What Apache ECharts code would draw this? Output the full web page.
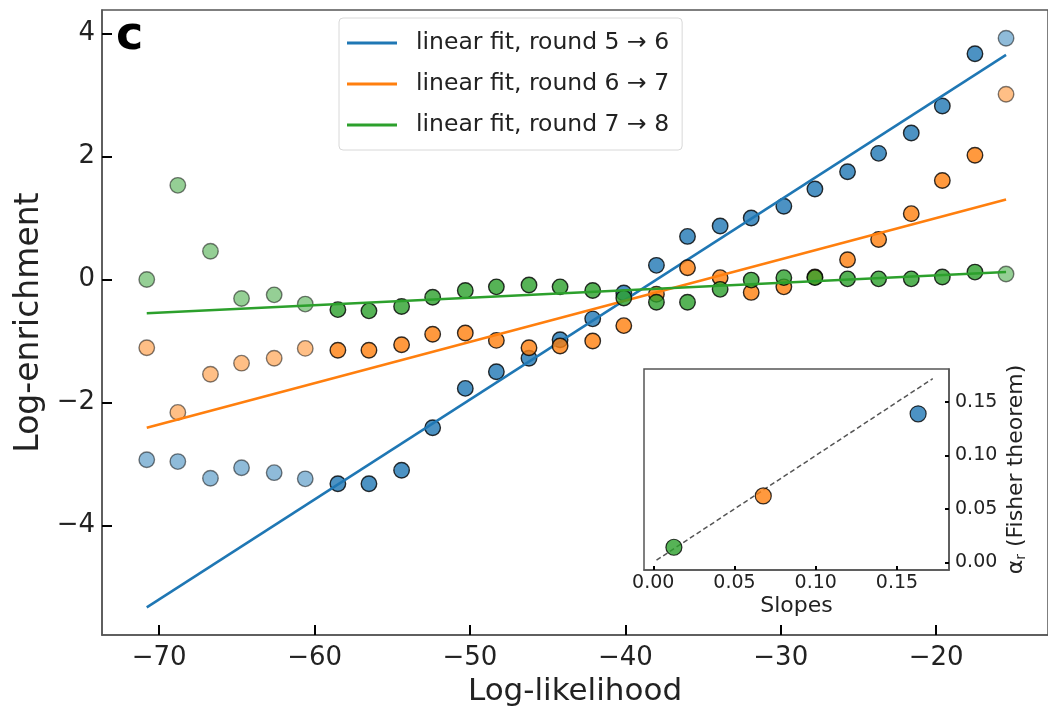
<!DOCTYPE html>
<html>
<head>
<meta charset="utf-8">
<script src="https://cdn.jsdelivr.net/npm/echarts@6/dist/echarts.min.js"></script>
<style>html,body{margin:0;padding:0;background:#fff}#c{width:1048px;height:712px}</style>
</head>
<body>
<div id="c"></div>
<script>
// ---- data ----
const logLik = [-70.8, -68.8, -66.7, -64.7, -62.6, -60.6, -58.5, -56.5, -54.4, -52.4, -50.3, -48.3, -46.2, -44.2,
                -42.1, -40.1, -38.0, -36.0, -33.9, -31.9, -29.8, -27.8, -25.7, -23.7, -21.6, -19.6, -17.5, -15.5];
const enrich56 = [-2.93, -2.96, -3.23, -3.06, -3.14, -3.24, -3.32, -3.32, -3.10, -2.41, -1.77, -1.50, -1.28, -0.98,
                  -0.64, -0.22, 0.23, 0.70, 0.87, 1.00, 1.19, 1.47, 1.75, 2.05, 2.38, 2.82, 3.67, 3.92];
const enrich67 = [-1.11, -2.16, -1.54, -1.36, -1.28, -1.12, -1.15, -1.15, -1.06, -0.89, -0.87, -0.99, -1.11, -1.08,
                  -1.00, -0.75, -0.24, 0.19, 0.03, -0.21, -0.12, 0.04, 0.32, 0.65, 1.07, 1.61, 2.02, 3.01];
const enrich78 = [0.00, 1.53, 0.46, -0.31, -0.25, -0.40, -0.49, -0.51, -0.44, -0.29, -0.18, -0.12, -0.09, -0.12,
                  -0.18, -0.30, -0.37, -0.37, -0.16, -0.01, 0.03, 0.03, 0.01, 0.01, 0.01, 0.04, 0.12, 0.09];
const fitFirst = 6, fitLast = 26;              // indices of points used in the fits
const fitX = [-70.8, -15.5];
const fit56 = [-5.33, 3.65];
const fit67 = [-2.41, 1.30];
const fit78 = [-0.55, 0.12];
const roundNames = ['linear fit, round 5 \u2192 6', 'linear fit, round 6 \u2192 7', 'linear fit, round 7 \u2192 8'];
const xTicks = [-70, -60, -50, -40, -30, -20];
const yTicks = [-4, -2, 0, 2, 4];
// inset
const slopes = [0.163, 0.0677, 0.0127];
const alphaFisher = [0.139, 0.0622, 0.0141];
const diagX = [0.002, 0.172];
const insetXTicks = [0, 0.05, 0.10, 0.15];
const insetYTicks = [0, 0.05, 0.10, 0.15];

const colors = ['#1f77b4', '#ff7f0e', '#2ca02c'];
const FONT = 'DejaVu Sans';
const minus = v => String(v).replace('-', '\u2212');

function pts(arr, keep) {
  const out = [];
  for (let i = 0; i < arr.length; i++) if (keep(i)) out.push([logLik[i], arr[i]]);
  return out;
}
const inFit = i => i >= fitFirst && i <= fitLast;
const outFit = i => !inFit(i);

const series = [];
[enrich56, enrich67, enrich78].forEach((arr, s) => {
  const fit = [fit56, fit67, fit78][s];
  series.push({
    type: 'scatter', xAxisIndex: 0, yAxisIndex: 0, symbolSize: 15.5, z: 2 + s * 3,
    data: pts(arr, outFit),
    itemStyle: { color: colors[s], borderColor: '#000', borderWidth: 1.4, opacity: 0.5 },
    silent: true
  });
  series.push({
    type: 'scatter', xAxisIndex: 0, yAxisIndex: 0, symbolSize: 15.5, z: 3 + s * 3,
    data: pts(arr, inFit),
    itemStyle: { color: colors[s], borderColor: '#000', borderWidth: 1.4 },
    silent: true
  });
  series.push({
    type: 'line', name: roundNames[s], xAxisIndex: 0, yAxisIndex: 0, z: 4 + s * 3,
    data: [[fitX[0], fit[0]], [fitX[1], fit[1]]],
    symbol: 'none', lineStyle: { color: colors[s], width: 2.5 }, itemStyle: { color: colors[s] },
    silent: true
  });
});
// inset background panel (white, covers main plot marks)
series.push({
  type: 'line', xAxisIndex: 1, yAxisIndex: 1, z: 20,
  data: [[diagX[0], diagX[0]], [diagX[1], diagX[1]]],
  symbol: 'none', lineStyle: { color: '#555', width: 1.5, type: [5, 3] }, silent: true
});
slopes.forEach((v, i) => {
  series.push({
    type: 'scatter', xAxisIndex: 1, yAxisIndex: 1, z: 21, symbolSize: 16,
    data: [[v, alphaFisher[i]]],
    itemStyle: { color: colors[i], borderColor: '#000', borderWidth: 1.2 }, silent: true
  });
});

function axLine() { return { show: true, onZero: false, lineStyle: { color: '#555', width: 1.5 } }; }
function ticks(vals, len) { return { show: true, inside: true, length: len, lineStyle: { color: '#000', width: 2 }, customValues: vals }; }

const chart = echarts.init(document.getElementById('c'), null, { renderer: 'canvas' });
chart.setOption({
  animation: false,
  backgroundColor: '#fff',
  textStyle: { fontFamily: FONT },
  grid: [
    { left: 102, top: 10, width: 948, height: 626.5, show: true, borderColor: '#555', borderWidth: 1.5, backgroundColor: 'transparent' },
    { left: 644, top: 369, width: 305, height: 201, show: true, borderColor: '#555', borderWidth: 1.5, backgroundColor: '#fff' }
  ],
  legend: {
    left: 339, top: 18, orient: 'vertical',
    data: roundNames,
    icon: 'rect', itemWidth: 50, itemHeight: 3, itemGap: 17,
    padding: [13, 13, 13, 8],
    backgroundColor: '#fff', borderColor: '#d8d8d8', borderWidth: 1, borderRadius: 4,
    textStyle: { fontFamily: FONT, fontSize: 23.5, color: '#222', padding: [0, 0, 0, 14], lineHeight: 23 },
    selectedMode: false, z: 30
  },
  xAxis: [
    {
      type: 'value', gridIndex: 0, min: -73.68, max: -12.8, splitLine: { show: false }, z: 40,
      axisLine: axLine(), axisTick: ticks(xTicks, 10),
      axisLabel: { show: true, margin: 10, fontSize: 26, fontFamily: FONT, color: '#222', customValues: xTicks, formatter: minus },
      name: 'Log-likelihood', nameLocation: 'middle', nameGap: 40,
      nameTextStyle: { fontSize: 31, fontFamily: FONT, color: '#222' }
    },
    {
      type: 'value', gridIndex: 1, min: -0.0057, max: 0.182, splitLine: { show: false }, z: 40,
      axisLine: axLine(), axisTick: ticks(insetXTicks, 4),
      axisLabel: { show: true, margin: 4, fontSize: 19, fontFamily: FONT, color: '#222', customValues: insetXTicks, formatter: v => v.toFixed(2) },
      name: 'Slopes', nameLocation: 'middle', nameGap: 25,
      nameTextStyle: { fontSize: 22, fontFamily: FONT, color: '#222' }
    }
  ],
  yAxis: [
    {
      type: 'value', gridIndex: 0, min: -5.78, max: 4.38, splitLine: { show: false }, z: 40,
      axisLine: axLine(), axisTick: ticks(yTicks, 10),
      axisLabel: { show: true, margin: 7, fontSize: 26, fontFamily: FONT, color: '#222', customValues: yTicks, formatter: minus },
      name: 'Log-enrichment', nameLocation: 'middle', nameGap: 52,
      nameTextStyle: { fontSize: 33, fontFamily: FONT, color: '#222' }
    },
    {
      type: 'value', gridIndex: 1, position: 'right', min: -0.0072, max: 0.181, splitLine: { show: false }, z: 40,
      axisLine: axLine(), axisTick: ticks(insetYTicks, 4),
      axisLabel: { show: true, margin: 6, fontSize: 19, fontFamily: FONT, color: '#222', customValues: insetYTicks, formatter: v => v.toFixed(2) },
      name: '\u03b1{sub|r} (Fisher theorem)', nameLocation: 'middle', nameGap: 56, nameRotate: 90,
      nameTextStyle: { fontSize: 22, fontFamily: FONT, color: '#222', rich: { sub: { fontSize: 14, fontFamily: FONT, color: '#222', verticalAlign: 'bottom', padding: [9, 0, 0, 0] } } }
    }
  ],
  graphic: [
    { type: 'text', left: 116, top: 14, z: 40, style: { text: 'c', fontSize: 46, fontWeight: 'bold', fontFamily: FONT, fill: '#000' } }
  ],
  series: series
});
</script>
</body>
</html>
